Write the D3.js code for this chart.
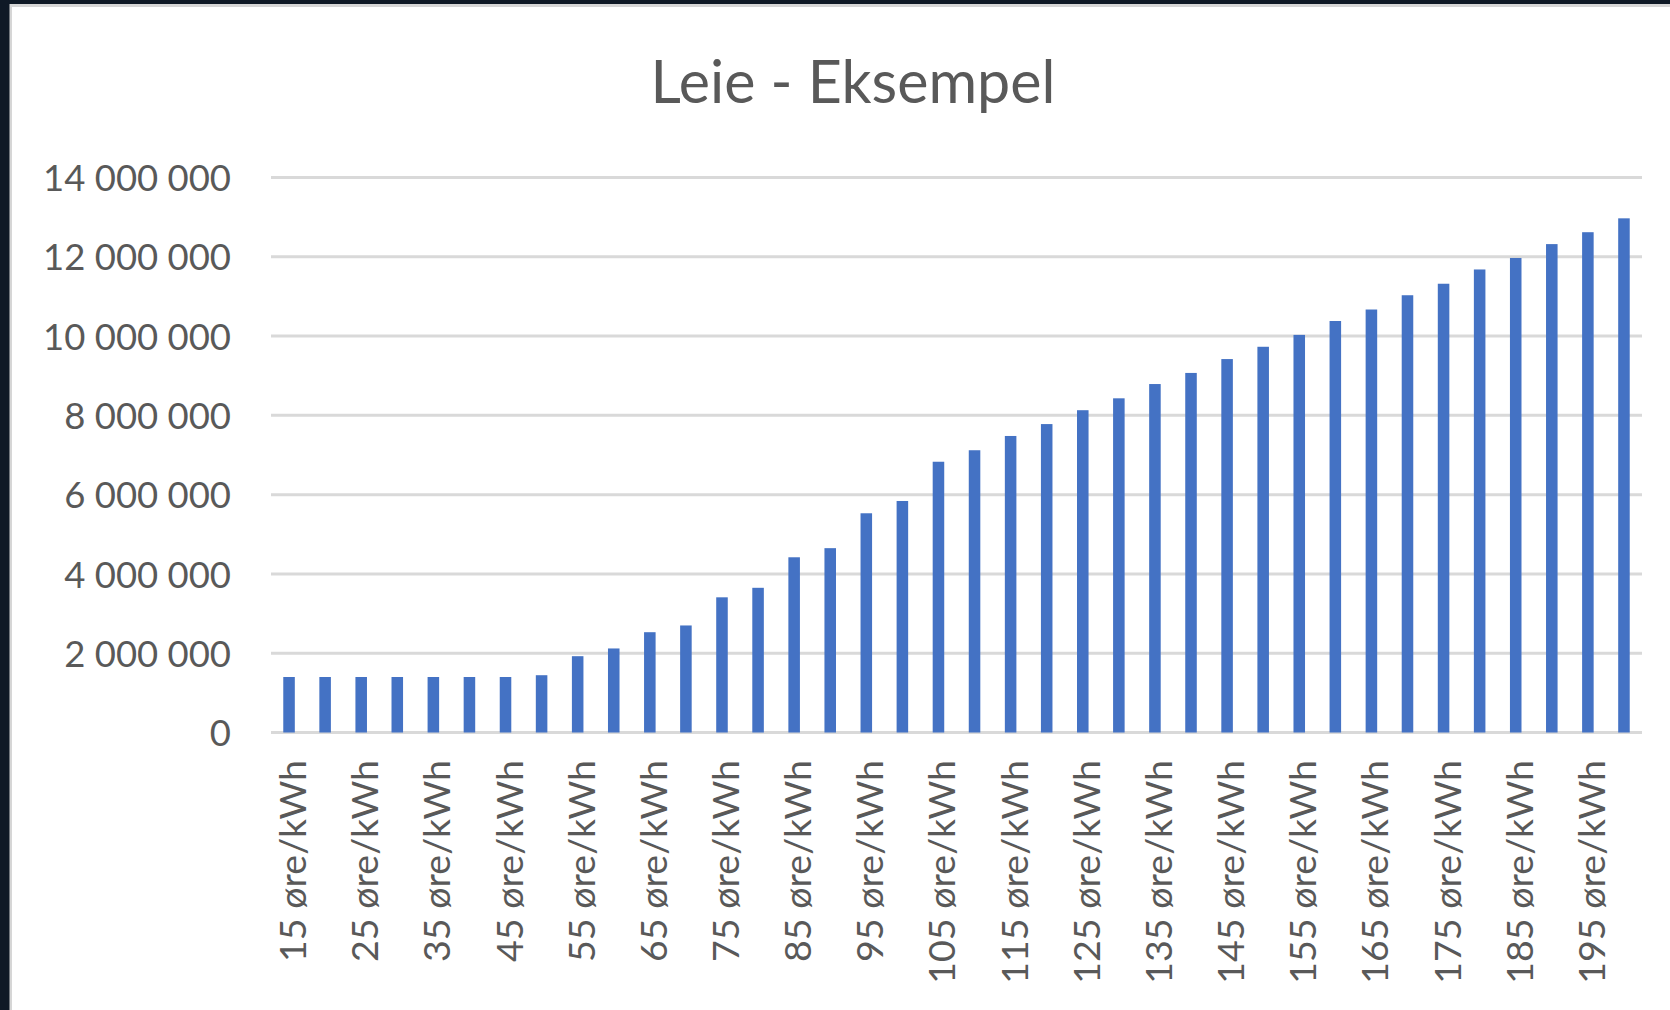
<!DOCTYPE html>
<html>
<head>
<meta charset="utf-8">
<script src="https://cdn.jsdelivr.net/npm/d3@7"></script>
<style>
  html, body { margin: 0; padding: 0; background: #ffffff; }
  svg { display: block; }
</style>
</head>
<body>
<svg id="chart" width="1670" height="1010"></svg>
<script>
// ---- data ----
const categories = [15,20,25,30,35,40,45,50,55,60,65,70,75,80,85,90,95,100,105,110,115,120,125,130,135,140,145,150,155,160,165,170,175,180,185,190,195,200]
  .map(v => v + " øre/kWh");
const values = [
  1400000,1400000,1400000,1400000,1400000,1400000,1400000,1445000,1925000,
  2120000,2530000,2700000,3410000,3650000,4420000,4650000,5530000,5840000,
  6830000,7120000,7480000,7780000,8130000,8430000,8790000,9070000,9420000,
  9730000,10030000,10380000,10670000,11030000,11320000,11680000,11970000,
  12320000,12620000,12970000
];
const yTicks = [0,2000000,4000000,6000000,8000000,10000000,12000000,14000000];
const title = "Leie - Eksempel";

// ---- layout ----
const FONT = "Lato, 'Open Sans', sans-serif";
const TEXT = "#595959";
const svg = d3.select("#chart");

// frame
svg.append("rect").attr("x",0).attr("y",0).attr("width",1670).attr("height",1010).attr("fill","#0f1926");
svg.append("rect").attr("x",9.5).attr("y",4).attr("width",1670).attr("height",1010).attr("fill","#d6d6d6");
svg.append("rect").attr("x",12).attr("y",7).attr("width",1670).attr("height",1010).attr("fill","#ffffff");

const x = d3.scaleBand().domain(categories).range([271, 1642]).paddingInner(0.68).paddingOuter(0.34);
const y = d3.scaleLinear().domain([0, 14000000]).range([732.5, 177.5]);

// fit a font size so that a sample string gets a given width
function fitSize(sample, targetW, base) {
  const t = svg.append("text").attr("font-family", FONT).attr("font-size", base).text(sample);
  const w = t.node().getComputedTextLength();
  t.remove();
  return base * targetW / w;
}
const fmt = v => d3.format(",")(v).replace(/,/g, " ");

// gridlines
svg.append("g").selectAll("line").data(yTicks).join("line")
  .attr("x1", 271).attr("x2", 1642)
  .attr("y1", d => y(d)).attr("y2", d => y(d))
  .attr("stroke", "#d9d9d9").attr("stroke-width", 3);

// bars
svg.append("g").selectAll("rect").data(values).join("rect")
  .attr("x", (d,i) => x(categories[i]))
  .attr("width", x.bandwidth())
  .attr("y", d => y(d))
  .attr("height", d => y(0) - y(d))
  .attr("fill", "#4472c4");

// y axis labels
const yfs = fitSize("14 000 000", 188, 40);
const yAxis = d3.axisLeft(y).tickValues(yTicks).tickFormat(fmt).tickSize(0).tickPadding(0);
const ga = svg.append("g").attr("transform", "translate(231,0)").call(yAxis);
ga.select(".domain").remove();
ga.selectAll("text")
  .attr("font-family", FONT).attr("font-size", yfs).attr("fill", TEXT)
  .attr("dy", null).attr("y", 0.36 * yfs).attr("x", 0)
  .attr("text-anchor", "end");

// x axis labels (every other category)
const xfs = fitSize("15 øre/kWh", 202, 40);
const capH = 0.72 * xfs;
svg.append("g").selectAll("text")
  .data(categories.filter((d,i) => i % 2 === 0)).join("text")
  .attr("transform", d => `translate(${x(d) + x.bandwidth()/2 + 3.5 + capH/2},760) rotate(-90)`)
  .attr("text-anchor", "end")
  .attr("font-family", FONT).attr("font-size", xfs).attr("fill", TEXT)
  .text(d => d);

// title
const tfs = fitSize(title, 405, 56);
svg.append("text")
  .attr("x", 853).attr("y", 103)
  .attr("text-anchor", "middle")
  .attr("font-family", FONT).attr("font-size", tfs).attr("fill", TEXT)
  .text(title);
</script>
</body>
</html>
